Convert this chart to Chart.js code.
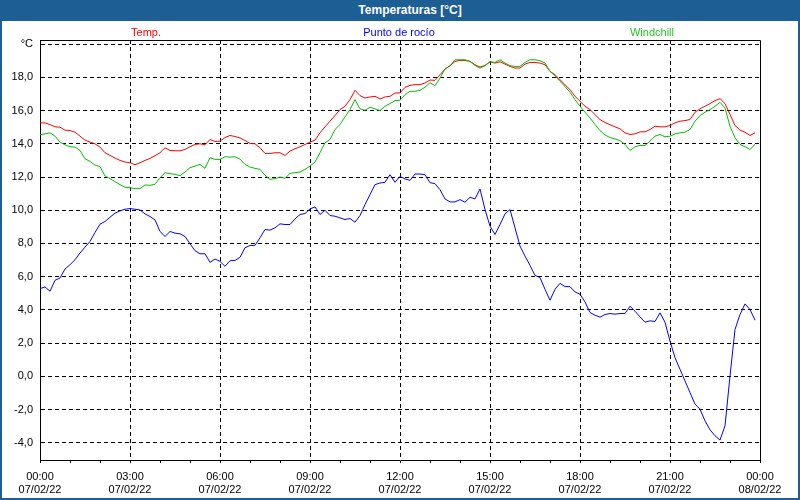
<!DOCTYPE html>
<html>
<head>
<meta charset="utf-8">
<title>Temperaturas</title>
<script src="https://cdn.jsdelivr.net/npm/chart.js@4"></script>
<style>
    html, body { margin: 0; padding: 0; background: #fff; }
    #fenetre { position: absolute; left: 0; top: 0; width: 800px; height: 500px; overflow: hidden; background: #fff; }
    #graphique { position: absolute; left: 0; top: 0; }
    #titre { position: absolute; left: 0; top: 0; width: 800px; height: 21px; background: #1d5e95; color: #fff;
             font: bold 12px "Liberation Sans", Arial, sans-serif; text-align: center; line-height: 21px;
             box-sizing: border-box; padding-left: 20px; }
    .serie { position: absolute; top: 25px; font: 11px "Liberation Sans", Arial, sans-serif; line-height: 14px;
             transform: translateX(-50%); white-space: nowrap; }
    #cadre { position: absolute; left: 0; top: 0; width: 800px; height: 500px; box-sizing: border-box;
             border: 2px solid #1d5e95; pointer-events: none; }
</style>
</head>
<body>
<div id="fenetre">
    <canvas id="graphique" width="800" height="500"></canvas>
    <div id="titre">Temperaturas [°C]</div>
    <div class="serie" style="left:146px;color:#ff0000">Temp.</div>
    <div class="serie" style="left:399px;color:#0000ff">Punto de rocío</div>
    <div class="serie" style="left:652px;color:#22c822">Windchill</div>
    <div id="cadre"></div>
</div>
<script>
// Mesures toutes les 10 minutes, de 00:00 à 23:50 (07/02/22)
const pasMinutes = 10;

const temperatura = [
    15.26, 15.26, 15.16, 15.02, 15.0, 14.82, 14.8, 14.7, 14.46, 14.22,
    14.1, 14.0, 13.8, 13.46, 13.3, 13.14, 13.0, 12.9, 12.86, 12.74,
    12.86, 13.0, 13.12, 13.28, 13.46, 13.76, 13.6, 13.58, 13.58, 13.66,
    13.82, 13.96, 14.0, 13.94, 14.26, 14.14, 14.16, 14.38, 14.5, 14.44,
    14.35, 14.2, 14.02, 14.0, 13.76, 13.42, 13.42, 13.46, 13.46, 13.3,
    13.56, 13.7, 13.82, 13.96, 14.1, 14.22, 14.66, 15.02, 15.36, 15.7,
    16.06, 16.26, 16.66, 17.22, 16.9, 16.76, 16.82, 16.86, 16.7, 16.82,
    16.86, 17.06, 17.06, 17.4, 17.52, 17.56, 17.56, 17.66, 17.84, 17.82,
    18.16, 18.5, 18.7, 18.96, 19.02, 19.02, 18.96, 18.76, 18.62, 18.72,
    18.94, 18.86, 18.94, 18.8, 18.66, 18.56, 18.56, 18.8, 18.9, 18.9,
    18.86, 18.76, 18.36, 18.16, 17.86, 17.56, 17.26, 16.86, 16.56, 16.26,
    16.06, 15.76, 15.46, 15.28, 15.15, 15.02, 14.9, 14.66, 14.56, 14.6,
    14.72, 14.72, 14.86, 15.06, 15.02, 15.02, 15.1, 15.26, 15.36, 15.4,
    15.46, 15.9, 16.1, 16.26, 16.42, 16.6, 16.72, 16.42, 15.76, 15.1,
    14.82, 14.7, 14.5, 14.66
];

const puntoRocio = [
    5.28, 5.38, 5.12, 5.78, 5.92, 6.46, 6.72, 7.02, 7.42, 7.78,
    8.12, 8.66, 9.16, 9.32, 9.58, 9.82, 9.96, 10.06, 10.1, 10.06,
    10.02, 9.78, 9.62, 9.42, 8.72, 8.42, 8.72, 8.62, 8.58, 8.42,
    7.98, 7.56, 7.38, 7.38, 6.86, 7.06, 6.92, 6.62, 6.96, 6.98,
    7.16, 7.74, 7.88, 7.88, 8.34, 8.84, 8.8, 8.94, 9.18, 9.14,
    9.14, 9.48, 9.74, 9.8, 10.08, 10.2, 9.74, 10.0, 9.68, 9.64,
    9.54, 9.44, 9.5, 9.28, 9.68, 10.34, 10.94, 11.54, 11.64, 11.68,
    12.14, 11.68, 12.04, 11.88, 11.8, 12.18, 12.18, 12.14, 11.66, 11.6,
    11.24, 10.68, 10.5, 10.5, 10.64, 10.48, 10.78, 10.68, 11.28, 10.04,
    9.04, 8.54, 9.14, 9.78, 10.04, 8.94, 7.84, 7.24, 6.68, 6.08,
    5.94, 5.24, 4.58, 5.24, 5.6, 5.4, 5.4, 5.08, 4.94, 4.48,
    3.84, 3.68, 3.56, 3.72, 3.78, 3.74, 3.78, 3.78, 4.22, 3.92,
    3.58, 3.26, 3.34, 3.3, 3.82, 3.26, 2.12, 1.12, 0.42, -0.28,
    -0.98, -1.68, -1.98, -2.68, -3.22, -3.58, -3.84, -2.98, 0.02, 2.82,
    3.72, 4.36, 4.02, 3.38
];

const windchill = [
    14.54, 14.6, 14.66, 14.46, 14.1, 13.94, 13.82, 13.8, 13.6, 13.1,
    12.94, 12.72, 12.62, 12.06, 11.9, 11.72, 11.54, 11.38, 11.36, 11.3,
    11.3, 11.52, 11.5, 11.56, 11.96, 12.26, 12.2, 12.16, 12.08, 12.3,
    12.56, 12.66, 12.76, 12.52, 13.16, 13.06, 13.06, 13.22, 13.2, 13.22,
    13.08, 12.76, 12.6, 12.52, 12.46, 12.1, 11.86, 11.9, 12.0, 11.92,
    12.22, 12.26, 12.3, 12.46, 12.66, 12.9, 13.46, 14.06, 14.26, 14.86,
    15.16, 15.62, 16.06, 16.66, 16.1, 16.02, 16.2, 16.1, 16.0, 16.26,
    16.42, 16.6, 16.62, 16.96, 17.16, 17.16, 17.22, 17.41, 17.68, 17.5,
    17.96, 18.5, 18.7, 19.06, 19.06, 19.06, 18.96, 18.72, 18.56, 18.7,
    18.94, 18.9, 19.06, 18.86, 18.7, 18.66, 18.66, 18.9, 19.06, 19.06,
    19.0, 18.86, 18.36, 18.1, 17.76, 17.46, 17.1, 16.66, 16.26, 15.9,
    15.56, 15.16, 14.79, 14.53, 14.38, 14.29, 14.19, 13.96, 13.6, 13.82,
    13.9, 13.9, 14.16, 14.46, 14.56, 14.42, 14.46, 14.6, 14.66, 14.7,
    14.86, 15.36, 15.7, 15.9, 16.06, 16.26, 16.5, 16.16, 15.06, 14.36,
    13.96, 13.82, 13.66, 13.96
];

// Axe des temps : graduations toutes les heures, étiquettes toutes les 3 heures
const heuresEtiquettes = ['00:00', '03:00', '06:00', '09:00', '12:00', '15:00', '18:00', '21:00', '00:00'];
const datesEtiquettes = ['07/02/22', '07/02/22', '07/02/22', '07/02/22', '07/02/22', '07/02/22', '07/02/22', '07/02/22', '08/02/22'];
const valeursY = [-4, -2, 0, 2, 4, 6, 8, 10, 12, 14, 16, 18, 20];
const uniteY = '°C';

document.addEventListener('DOMContentLoaded', function() {
    const ctx = document.getElementById('graphique').getContext('2d');

    const minutes = temperatura.map((v, i) => i * pasMinutes);

    Chart.defaults.font.family = '"Liberation Sans", Arial, sans-serif';
    Chart.defaults.font.size = 11;
    Chart.defaults.color = '#000';

    // Cadre noir en haut et à droite de la zone du graphique
    const cadre = {
        id: 'cadre',
        beforeDatasetsDraw(chart) {
            const a = chart.chartArea;
            const c = chart.ctx;
            c.save();
            c.strokeStyle = '#000';
            c.lineWidth = 1;
            c.beginPath();
            c.moveTo(a.left, Math.round(a.top) + 0.5);
            c.lineTo(Math.round(a.right) + 0.5, Math.round(a.top) + 0.5);
            c.lineTo(Math.round(a.right) + 0.5, a.bottom);
            c.stroke();
            c.restore();
        }
    };

    new Chart(ctx, {
        type: 'line',
        data: {
            labels: minutes,
            datasets: [{
                label: 'Temp.',
                data: temperatura,
                borderColor: '#ff0000',
                borderWidth: 1,
                order: 2
            }, {
                label: 'Punto de rocío',
                data: puntoRocio,
                borderColor: '#0000ff',
                borderWidth: 1,
                order: 1
            }, {
                label: 'Windchill',
                data: windchill,
                borderColor: '#00c000',
                borderWidth: 1,
                order: 0
            }]
        },
        options: {
            responsive: false,
            animation: false,
            events: [],
            elements: {
                point: { radius: 0 },
                line: { tension: 0, fill: false }
            },
            layout: {
                padding: { top: 40, right: 40, left: 0, bottom: 0 }
            },
            plugins: {
                legend: { display: false },
                tooltip: { enabled: false }
            },
            scales: {
                x: {
                    type: 'linear',
                    min: 0,
                    max: 1440,
                    afterBuildTicks: function(scale) {
                        const t = [];
                        for (let m = 0; m <= 1440; m += 60) t.push({ value: m });
                        scale.ticks = t;
                    },
                    afterFit: function(scale) { scale.height = 40; },
                    ticks: {
                        autoSkip: false,
                        maxRotation: 0,
                        padding: 7,
                        callback: function(value) {
                            if (value % 180 !== 0) return '';
                            const k = value / 180;
                            return [heuresEtiquettes[k], datesEtiquettes[k]];
                        }
                    },
                    grid: {
                        color: function(c) {
                            const v = c.tick ? c.tick.value : 0;
                            return (v % 180 === 0 && v > 0 && v < 1440) ? '#000' : 'rgba(0,0,0,0)';
                        },
                        tickColor: '#000',
                        tickLength: 3,
                        lineWidth: 1
                    },
                    border: { color: '#000', dash: [4, 3] }
                },
                y: {
                    min: -5.04,
                    max: 20.25,
                    afterBuildTicks: function(scale) {
                        scale.ticks = valeursY.map(v => ({ value: v }));
                    },
                    afterFit: function(scale) { scale.width = 40; },
                    ticks: {
                        padding: 7,
                        callback: function(value) {
                            if (value === 20) return uniteY;
                            return value.toFixed(1).replace('.', ',');
                        }
                    },
                    grid: {
                        color: '#000',
                        drawTicks: false,
                        lineWidth: 1
                    },
                    border: { color: '#000', dash: [4, 3] }
                }
            }
        },
        plugins: [cadre]
    });
});
</script>
</body>
</html>
